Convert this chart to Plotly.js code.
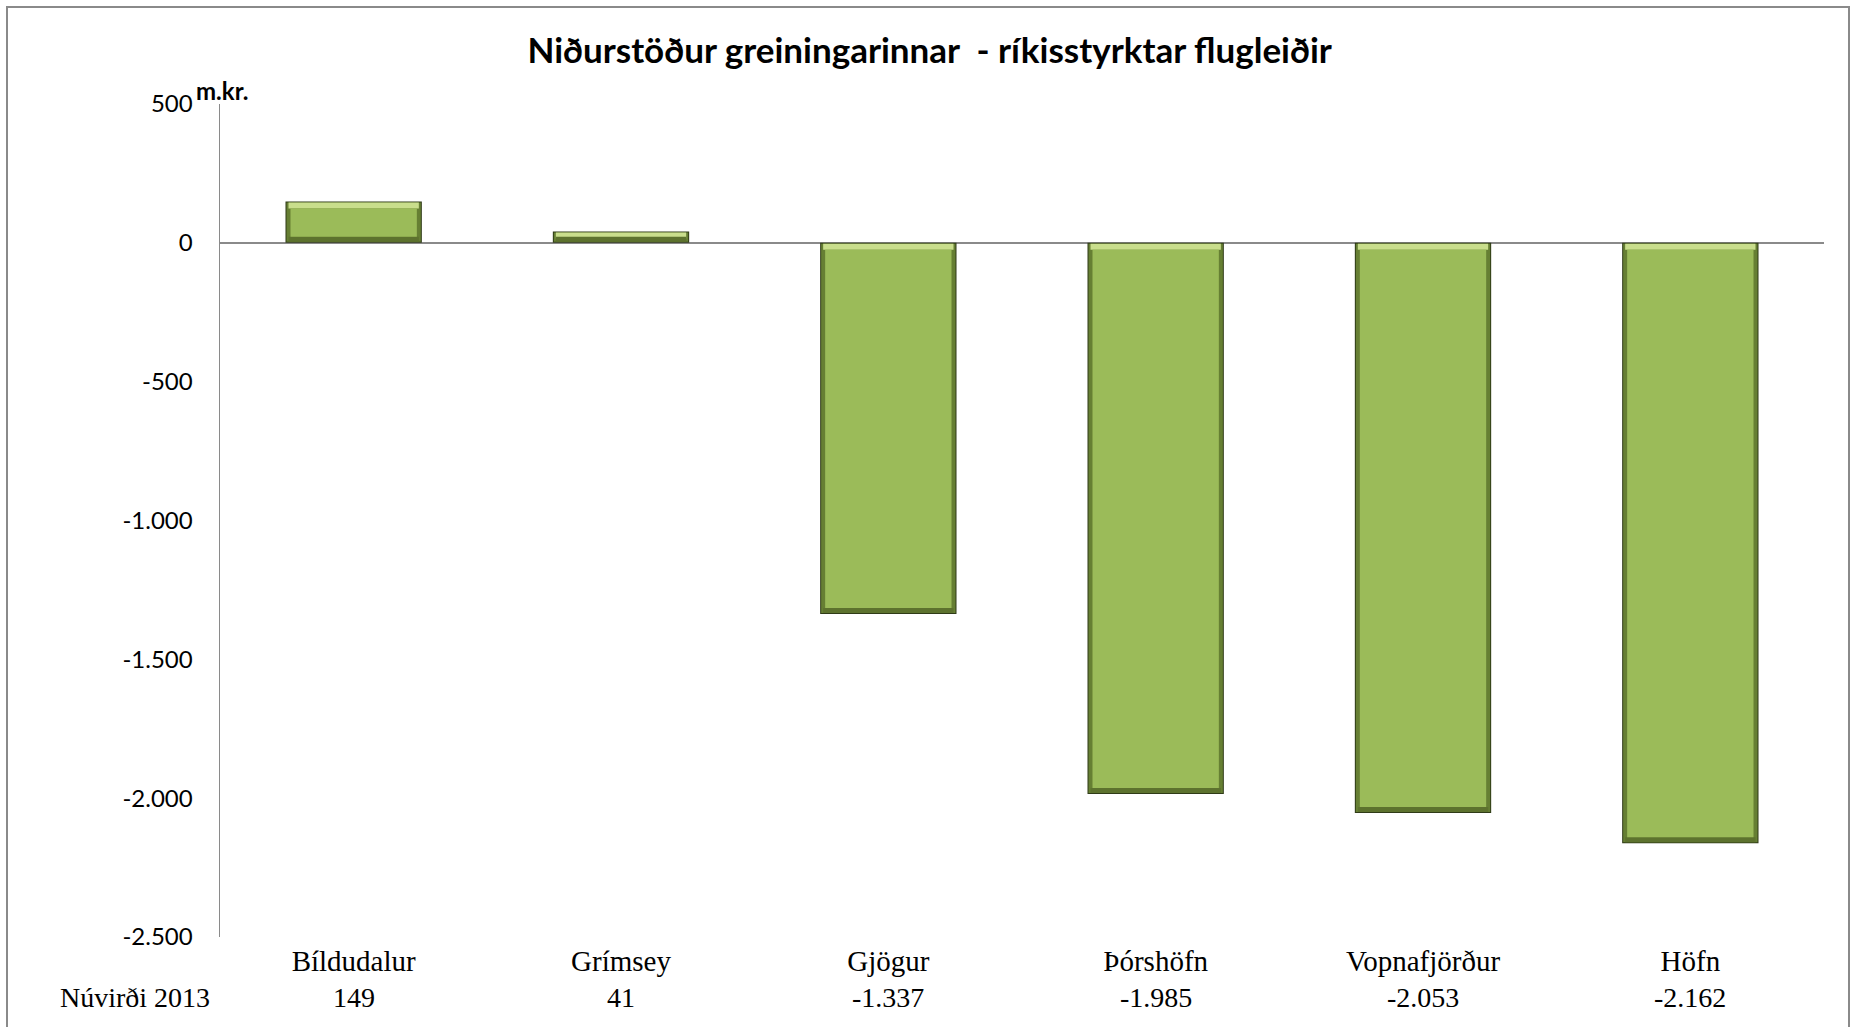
<!DOCTYPE html>
<html>
<head>
<meta charset="utf-8">
<script src="https://cdn.plot.ly/plotly-3.0.1.min.js"></script>
<style>
body{margin:0;background:#fff;}
#wrap{position:relative;width:1852px;height:1027px;overflow:hidden;}
#frame{position:absolute;left:6px;top:6px;width:1840px;height:1040px;border:2px solid #8a8a8a;pointer-events:none;}
</style>
</head>
<body>
<div id="wrap">
<div id="bar-plot" style="width:1852px;height:1027px;"></div>
<div id="frame"></div>
</div>
<script>
// Niðurstöður greiningarinnar - núvirði 2013 (m.kr.)
var routes=["Bíldudalur","Grímsey","Gjögur","Þórshöfn","Vopnafjörður","Höfn"]
var npv2013=[149,41,-1337,-1985,-2053,-2162]
var rowLabel="Núvirði 2013"
var yTicks=[500,0,-500,-1000,-1500,-2000,-2500]

// icelandic number format: 1.337
function isFmt(v){
  var s=Math.abs(v).toString().replace(/\B(?=(\d{3})+(?!\d))/g,".")
  return (v<0?"-":"")+s
}

var sansFont="Lato, 'Open Sans', sans-serif"
var serifFont="'Liberation Serif', 'DejaVu Serif', serif"

// plot box in px, used to turn the bevel insets into axis units
var yRange=[-2500,500]
var margin={l:220,r:28,t:104,b:90}
var plotH=1027-margin.t-margin.b
var plotW=1852-margin.l-margin.r
var upp=(yRange[1]-yRange[0])/plotH
var cpp=routes.length/plotW
var barW=0.51

var tops=npv2013.map(v=>Math.max(v,0))
var bots=npv2013.map(v=>Math.min(v,0))

// one bevel layer: inset from the bar edges (px)
function layer(insX,insTop,insBot,color){
  var base=bots.map(b=>b+insBot*upp)
  var h=tops.map((t,i)=>Math.max(0,(t-insTop*upp)-base[i]))
  return {x:routes,y:h,base:base,type:"bar",width:barW-2*insX*cpp,
          marker:{color:color,line:{width:0}},hoverinfo:"skip"}
}
// strip below the top edge
function topStrip(insX,from,thick,color){
  var base=tops.map((t,i)=>Math.max(bots[i],t-(from+thick)*upp))
  var h=tops.map((t,i)=>Math.max(0,(t-from*upp)-base[i]))
  return {x:routes,y:h,base:base,type:"bar",width:barW-2*insX*cpp,
          marker:{color:color,line:{width:0}},hoverinfo:"skip"}
}
// strip above the bottom edge
function botStrip(insX,from,thick,color){
  var base=bots.map(b=>b+from*upp)
  var h=tops.map((t,i)=>Math.max(0,Math.min(t,bots[i]+(from+thick)*upp)-base[i]))
  return {x:routes,y:h,base:base,type:"bar",width:barW-2*insX*cpp,
          marker:{color:color,line:{width:0}},hoverinfo:"skip"}
}

var trace=[layer(0,0,0,"#2f3b17"),
           layer(1,1,1,"#667f33"),
           topStrip(3,1,6,"#c9de8c"),
           botStrip(3,1,5,"#5d722e"),
           layer(5,7,6,"#9bbb59")]

var valueNotes=routes.map((r,i)=>({x:r,xref:"x",y:-0.0732,yref:"paper",yanchor:"middle",
                                   text:isFmt(npv2013[i]),showarrow:false,
                                   font:{family:serifFont,size:28,color:"#000"}}))

var layout={title:{text:"Niðurstöður greiningarinnar &nbsp;- ríkisstyrktar flugleiðir",
                   x:0.502,xref:"container",xanchor:"center",
                   y:0.951,yref:"container",yanchor:"middle",
                   font:{family:sansFont,size:35,color:"#000",weight:"bold"}},
            width:1852,height:1027,
            margin:margin,
            paper_bgcolor:"#fff",plot_bgcolor:"#fff",
            showlegend:false,
            barmode:"overlay",
            xaxis:{showline:false,showgrid:false,zeroline:false,ticks:"",
                   tickfont:{family:serifFont,size:29,color:"#000"},
                   ticklabelstandoff:4},
            yaxis:{range:yRange,tickvals:yTicks,ticktext:yTicks.map(isFmt),
                   showline:true,linecolor:"#8a8a8a",linewidth:1.5,
                   showgrid:false,zeroline:true,zerolinecolor:"#8a8a8a",zerolinewidth:2,
                   ticks:"",ticklabelstandoff:21,
                   tickfont:{family:sansFont,size:24,color:"#000"}},
            annotations:[{x:-0.016,xref:"paper",xanchor:"left",y:1.016,yref:"paper",yanchor:"middle",
                          text:"<b>m.kr.</b>",showarrow:false,
                          font:{family:sansFont,size:24,color:"#000"}},
                         {x:-0.053,xref:"paper",xanchor:"center",y:-0.0732,yref:"paper",yanchor:"middle",
                          text:rowLabel,showarrow:false,
                          font:{family:serifFont,size:28,color:"#000"}}].concat(valueNotes)}

Plotly.newPlot("bar-plot",trace,layout,{displayModeBar:false,staticPlot:true})
</script>
</body>
</html>
